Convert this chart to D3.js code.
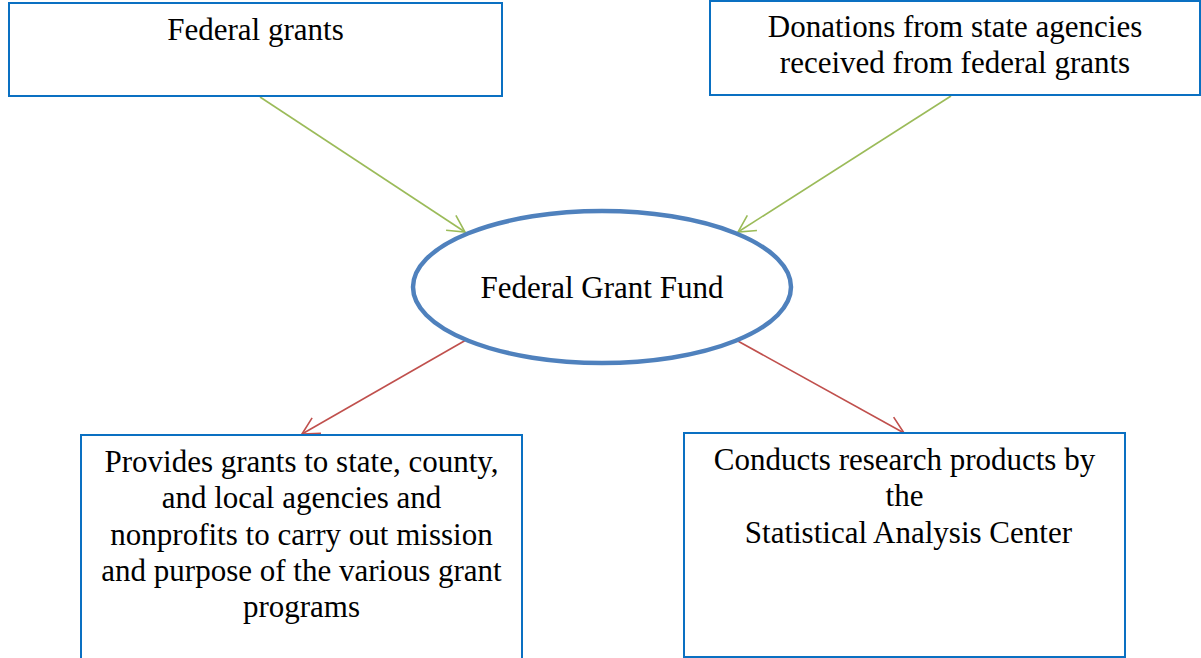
<!DOCTYPE html>
<html><head><meta charset="utf-8">
<script src="https://cdn.jsdelivr.net/npm/d3@7"></script>
<style>html,body{margin:0;padding:0;background:#fff;}svg{display:block;}
text{font-family:"Liberation Serif","Times New Roman",Times,Tinos,"DejaVu Serif",serif;}</style>
</head><body>
<script>
// Nodes of the flow diagram
const nodeIds = ["grants", "donations", "fund", "provides", "conducts"];
const nodeShapes = ["rect", "rect", "ellipse", "rect", "rect"];
const nodeLabels = [
  ["Federal grants"],
  ["Donations from state agencies", "received from federal grants"],
  ["Federal Grant Fund"],
  ["Provides grants to state, county,", "and local agencies and", "nonprofits to carry out mission", "and purpose of the various grant", "programs"],
  ["Conducts research products by", "the", " Statistical Analysis Center"]
];
// Edges (from -> to) and kind
const edgeFrom = ["grants", "donations", "fund", "fund"];
const edgeTo = ["fund", "fund", "provides", "conducts"];
const edgeKind = ["in", "in", "out", "out"];

// Layout (positions/sizes kept separate from data)
const W = 1201, H = 658;
const layout = {
  grants:   {x: 9,   y: 3,   w: 493, h: 93},
  donations:{x: 710, y: 1,   w: 490, h: 94},
  fund:     {cx: 602, cy: 287, rx: 189, ry: 76},
  provides: {x: 81,  y: 435, w: 441, h: 240},
  conducts: {x: 684, y: 433, w: 441, h: 224}
};
const edgePts = [
  [[260, 97], [465, 232]],
  [[951, 96], [738, 232]],
  [[466, 340], [302, 434]],
  [[736, 340], [904, 433]]
];
const textTop = {grants: 40, donations: 37, fund: 298, provides: 472, conducts: 470};
const lineH = 36.3;
const colors = {box: "#0A70C2", ellipse: "#4F81BD", in: "#9BBB59", out: "#C0504D"};

const svg = d3.select("body").append("svg").attr("width", W).attr("height", H);

// edges
edgeFrom.forEach((f, i) => {
  const [[x1, y1], [x2, y2]] = edgePts[i];
  const col = colors[edgeKind[i]];
  const g = svg.append("g").attr("stroke", col).attr("stroke-width", 1.6).attr("fill", "none");
  g.append("line").attr("x1", x1).attr("y1", y1).attr("x2", x2).attr("y2", y2);
  const ang = Math.atan2(y1 - y2, x1 - x2);
  const L = 19, a = 28 * Math.PI / 180;
  const p = d3.path();
  p.moveTo(x2 + L * Math.cos(ang + a), y2 + L * Math.sin(ang + a));
  p.lineTo(x2, y2);
  p.lineTo(x2 + L * Math.cos(ang - a), y2 + L * Math.sin(ang - a));
  g.append("path").attr("d", p.toString());
});

// nodes
nodeIds.forEach((id, i) => {
  const l = layout[id];
  let cx;
  if (nodeShapes[i] === "rect") {
    svg.append("rect").attr("x", l.x).attr("y", l.y).attr("width", l.w).attr("height", l.h)
      .attr("fill", "#fff").attr("stroke", colors.box).attr("stroke-width", 2);
    cx = l.x + l.w / 2;
  } else {
    svg.append("ellipse").attr("cx", l.cx).attr("cy", l.cy).attr("rx", l.rx).attr("ry", l.ry)
      .attr("fill", "#fff").attr("stroke", colors.ellipse).attr("stroke-width", 4.5);
    cx = l.cx;
  }
  const t = svg.append("text").attr("font-size", 31)
    .attr("fill", "#000").attr("text-anchor", "middle")
    .style("white-space", "pre");
  nodeLabels[i].forEach((s, j) => {
    t.append("tspan").attr("x", cx).attr("y", textTop[id] + j * lineH).text(s);
  });
});
</script>
</body></html>
